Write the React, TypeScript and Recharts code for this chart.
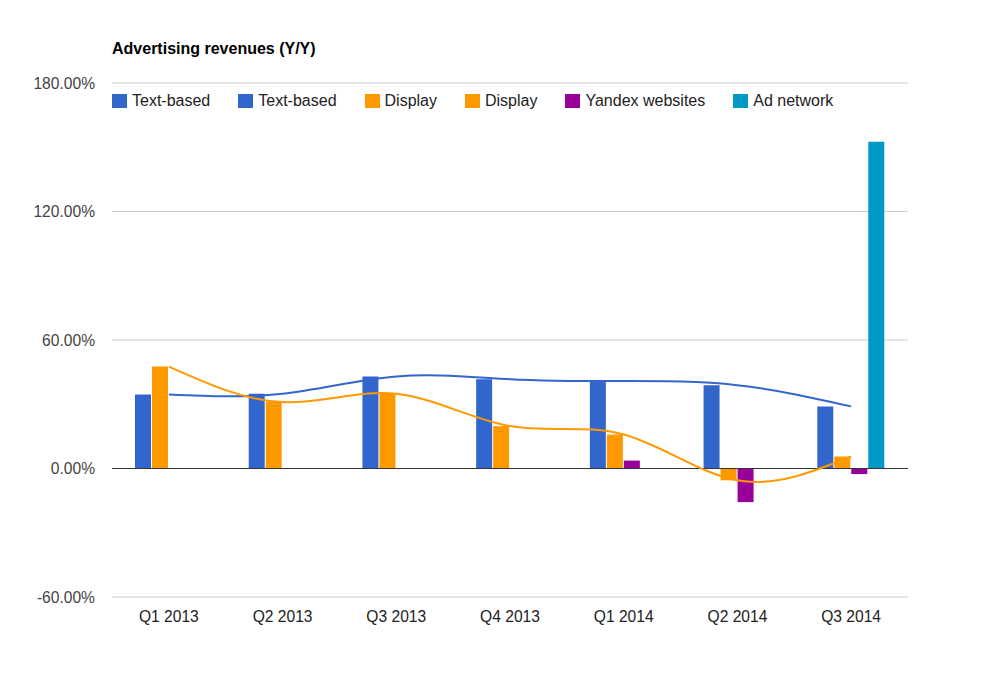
import React from 'react';
import {
  ComposedChart,
  Bar,
  Line,
  XAxis,
  YAxis,
  CartesianGrid,
  ReferenceLine,
} from 'recharts';

const categories = ['Q1 2013', 'Q2 2013', 'Q3 2013', 'Q4 2013', 'Q1 2014', 'Q2 2014', 'Q3 2014'];
const textBased = [34.6, 34.9, 43.0, 41.7, 40.8, 38.9, 29.0];
const display = [47.6, 31.0, 34.9, 19.8, 15.9, -5.5, 5.6];
const yandexWebsites = [null, null, null, null, 3.7, -15.7, -2.6];
const adNetwork = [null, null, null, null, null, null, 152.6];
const yTicks = [-60, 0, 60, 120, 180];

const legendItems = [
  { name: 'Text-based', color: '#3366cc' },
  { name: 'Text-based', color: '#3366cc' },
  { name: 'Display', color: '#ff9900' },
  { name: 'Display', color: '#ff9900' },
  { name: 'Yandex websites', color: '#990099' },
  { name: 'Ad network', color: '#0099c6' },
];

const data = categories.map((c, i) => ({
  cat: c,
  text: textBased[i],
  display: display[i],
  yandex: yandexWebsites[i],
  ad: adNetwork[i],
}));

const FONT = 'Arial, "Liberation Sans", sans-serif';

export default function App() {
  return (
    <div style={{ position: 'absolute', left: 0, top: 0, width: 983, height: 684, background: '#fff', fontFamily: FONT }}>
      <div
        style={{
          position: 'absolute',
          left: 112,
          top: 41,
          fontSize: 16,
          lineHeight: '16px',
          fontWeight: 'bold',
          color: '#000',
          whiteSpace: 'nowrap',
        }}
      >
        Advertising revenues (Y/Y)
      </div>
      <ComposedChart
        width={983}
        height={684}
        data={data}
        margin={{ top: 83, right: 75, bottom: 57, left: 0 }}
        barSize={16}
        barGap={1}
      >
        <CartesianGrid vertical={false} stroke="#cccccc" strokeWidth={1} />
        <XAxis
          dataKey="cat"
          axisLine={false}
          tickLine={false}
          tickSize={0}
          tickMargin={14}
          tick={{ fill: '#222222', fontSize: 15.6, fontFamily: FONT }}
        />
        <YAxis
          width={112}
          domain={[-60, 180]}
          ticks={yTicks}
          axisLine={false}
          tickLine={false}
          tickSize={0}
          tickMargin={17}
          tickFormatter={(v: number) => v.toFixed(2) + '%'}
          tick={{ fill: '#444444', fontSize: 15.6, fontFamily: FONT }}
        />
        <Bar dataKey="text" fill="#3366cc" isAnimationActive={false} />
        <Bar dataKey="display" fill="#ff9900" isAnimationActive={false} />
        <Bar dataKey="yandex" fill="#990099" isAnimationActive={false} />
        <Bar dataKey="ad" fill="#0099c6" isAnimationActive={false} />
        <ReferenceLine y={0} stroke="#333333" strokeWidth={1} />
        <Line type="natural" dataKey="text" stroke="#3366cc" strokeWidth={2} dot={false} isAnimationActive={false} />
        <Line type="natural" dataKey="display" stroke="#ff9900" strokeWidth={2} dot={false} isAnimationActive={false} />
      </ComposedChart>
      <div
        style={{
          position: 'absolute',
          left: 112,
          top: 94,
          height: 14,
          display: 'flex',
          alignItems: 'center',
          fontSize: 16,
          color: '#222222',
          whiteSpace: 'nowrap',
        }}
      >
        {legendItems.map((it, i) => (
          <div key={i} style={{ display: 'flex', alignItems: 'center', marginRight: 28 }}>
            <div style={{ width: 15, height: 14, background: it.color, marginRight: 5 }} />
            <span style={{ lineHeight: '14px' }}>{it.name}</span>
          </div>
        ))}
      </div>
    </div>
  );
}
